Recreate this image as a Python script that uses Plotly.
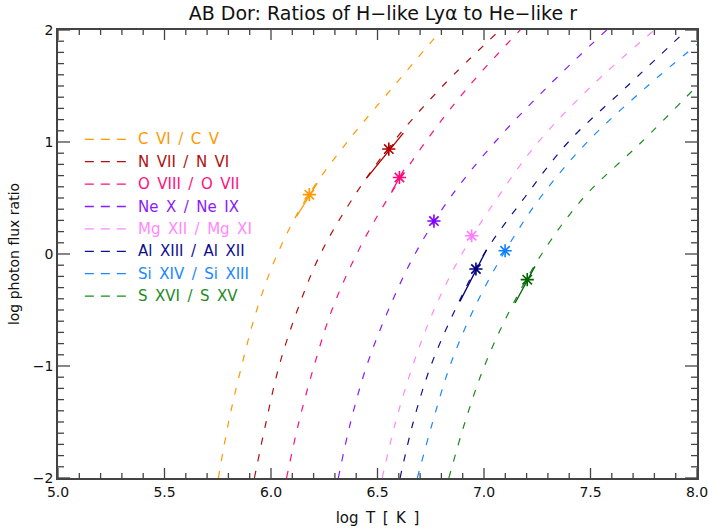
import plotly.graph_objects as go

# Ion pairs (H-like / He-like) and their colours
labels = ["C VI / C V", "N VII / N VI", "O VIII / O VII", "Ne X / Ne IX",
          "Mg XII / Mg XI", "Al XIII / Al XII", "Si XIV / Si XIII", "S XVI / S XV"]
colors = ["#FF9900", "#B01010", "#FF1080", "#8A1AFF",
          "#FF88FF", "#101090", "#1A88FF", "#1E8A1E"]
star_colors = ["#FF9900", "#B00000", "#FF0A78", "#8000FF",
               "#FF80FF", "#000080", "#0A80FF", "#006400"]

# Theoretical ratio curves: log T at fixed log ratio levels
y_levels = [-2.0, -1.5, -1.0, -0.5, 0.0, 0.5, 1.0, 1.5, 2.0]
logT_C  = [5.753, 5.801, 5.862, 5.933, 6.030, 6.167, 6.358, 6.577, 6.800]
logT_N  = [5.922, 5.977, 6.038, 6.124, 6.232, 6.385, 6.574, 6.806, 7.075]
logT_O  = [6.073, 6.131, 6.202, 6.286, 6.402, 6.550, 6.725, 6.930, 7.170]
logT_Ne = [6.316, 6.374, 6.449, 6.551, 6.676, 6.840, 7.052, 7.302, 7.576]
logT_Mg = [6.522, 6.585, 6.665, 6.765, 6.896, 7.062, 7.255, 7.505, 7.800]
logT_Al = [6.606, 6.668, 6.750, 6.864, 7.000, 7.189, 7.396, 7.673, 7.952]
logT_Si = [6.687, 6.759, 6.840, 6.950, 7.091, 7.263, 7.485, 7.768, 8.000]
ratio_Si = [-2.0, -1.5, -1.0, -0.5, 0.0, 0.5, 1.0, 1.5, 1.87]
logT_S  = [6.835, 6.911, 7.002, 7.122, 7.271, 7.466, 7.740, 8.000]
ratio_S = [-2.0, -1.5, -1.0, -0.5, 0.0, 0.5, 1.0, 1.50]

curve_T = [logT_C, logT_N, logT_O, logT_Ne, logT_Mg, logT_Al, logT_Si, logT_S]
curve_R = [y_levels] * 6 + [ratio_Si, ratio_S]

# Measured ratios and the derived temperatures
meas_T = [6.18, 6.553, 6.603, 6.765, 6.942, 6.962, 7.099, 7.203]
meas_R = [0.53, 0.937, 0.683, 0.294, 0.163, -0.134, 0.029, -0.229]

# Temperature ranges (solid segments) for ions where one is drawn
seg_idx = [0, 1, 2, 5, 7]
seg_T0 = [6.120, 6.449, 6.567, 6.887, 7.146]
seg_R0 = [0.335, 0.678, 0.558, -0.423, -0.437]
seg_T1 = [6.217, 6.621, 6.624, 7.012, 7.239]
seg_R1 = [0.633, 1.079, 0.752, 0.038, -0.111]

FONT = "DejaVu Sans"
DASH = "7px,10px"
AXIS_GREY = "#444444"
X_RANGE = [5.0, 8.0]
Y_RANGE = [-2.0, 2.0]
W, H = 709, 529
MARGIN = dict(l=58, r=12, t=30, b=51)
fig = go.Figure()

for i in range(len(labels)):
    fig.add_trace(go.Scatter(
        x=curve_T[i], y=curve_R[i], mode="lines",
        line=dict(color=colors[i], width=1.2, dash=DASH, shape="spline", smoothing=1.0),
        showlegend=False, hoverinfo="skip"))

for k, i in enumerate(seg_idx):
    fig.add_trace(go.Scatter(
        x=[seg_T0[k], seg_T1[k]], y=[seg_R0[k], seg_R1[k]], mode="lines",
        line=dict(color=star_colors[i], width=1.3),
        showlegend=False, hoverinfo="skip"))

for i in range(len(labels)):
    fig.add_trace(go.Scatter(
        x=[meas_T[i]], y=[meas_R[i]], mode="markers",
        marker=dict(symbol="asterisk-open", size=11, color=star_colors[i],
                    line=dict(color=star_colors[i], width=1.6)),
        showlegend=False, hoverinfo="skip"))

# Inward tick marks on all four sides (major + minor), as one line trace.
# Tick lengths are given in pixels and converted to axis units.
plot_w = W - MARGIN["l"] - MARGIN["r"]
plot_h = H - MARGIN["t"] - MARGIN["b"]
px_y = (Y_RANGE[1] - Y_RANGE[0]) / plot_h
px_x = (X_RANGE[1] - X_RANGE[0]) / plot_w
tx, ty = [], []
for k in range(31):
    xv = round(X_RANGE[0] + 0.1 * k, 1)
    ln = (10 if k % 5 == 0 else 5) * px_y
    tx += [xv, xv, None, xv, xv, None]
    ty += [Y_RANGE[0], Y_RANGE[0] + ln, None, Y_RANGE[1], Y_RANGE[1] - ln, None]
for k in range(41):
    yv = round(Y_RANGE[0] + 0.1 * k, 1)
    ln = (12 if k % 10 == 0 else 6) * px_x
    tx += [X_RANGE[0], X_RANGE[0] + ln, None, X_RANGE[1], X_RANGE[1] - ln, None]
    ty += [yv, yv, None, yv, yv, None]
fig.add_trace(go.Scatter(x=tx, y=ty, mode="lines",
                         line=dict(color=AXIS_GREY, width=1.3),
                         showlegend=False, hoverinfo="skip", connectgaps=False))

# Key in the upper left: dashed sample plus coloured label per ion pair
row0, row_step = 0.756, 0.0500
for i, lab in enumerate(labels):
    yy = row0 - i * row_step
    fig.add_shape(type="line", xref="paper", yref="paper",
                  x0=0.042, x1=0.110, y0=yy, y1=yy,
                  line=dict(color=colors[i], width=1.3, dash="9px,7px"))
    fig.add_annotation(xref="paper", yref="paper", x=0.122, y=yy,
                       xanchor="left", yanchor="middle", showarrow=False,
                       text=lab.replace(" ", "\u2002"),
                       font=dict(family=FONT, size=15, color=colors[i]))

fig.update_xaxes(
    range=X_RANGE, dtick=0.5, tick0=5.0, tickformat=".1f", ticks="",
    showgrid=False, zeroline=False, showline=True, linecolor=AXIS_GREY, linewidth=1.5,
    mirror=True, automargin=False,
    title=dict(text="log\u2002T\u2002[\u2002K\u2002]", font=dict(family=FONT, size=15, color="#111111"), standoff=14))
fig.update_yaxes(
    range=Y_RANGE, dtick=1, tick0=0, ticks="",
    showgrid=False, zeroline=False, showline=True, linecolor=AXIS_GREY, linewidth=1.5,
    mirror=True, automargin=False,
    title=dict(text="log photon flux ratio", font=dict(family=FONT, size=14, color="#111111"), standoff=10))

fig.update_layout(
    width=W, height=H,
    margin=MARGIN,
    paper_bgcolor="white", plot_bgcolor="white",
    font=dict(family=FONT, size=14, color="#111111"),
    title=dict(text="AB Dor: Ratios of H\u2212like Ly\u03b1 to He\u2212like r",
               font=dict(family=FONT, size=19, color="#111111"),
               x=0.54, xanchor="center", y=0.974, yanchor="middle"),
    showlegend=False,
)

fig.write_html("out.html")
